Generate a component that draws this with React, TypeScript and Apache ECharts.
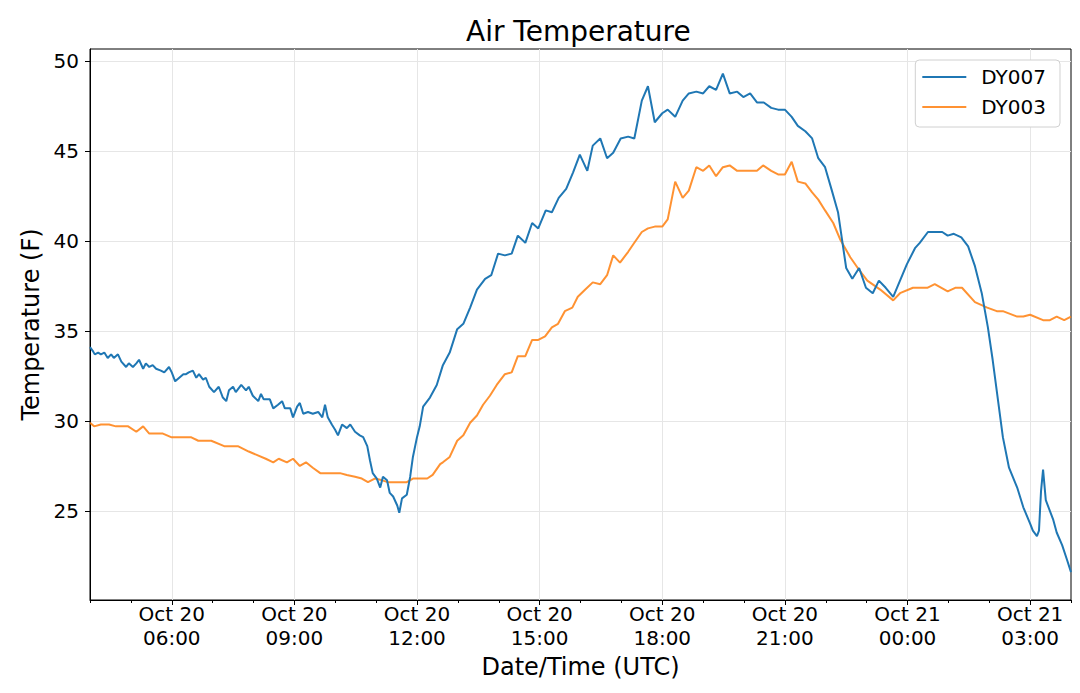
import { useEffect, useRef } from "react";
import * as echarts from "echarts";

// Time origin: Oct 20 04:00 UTC; minutes are offsets from it.
const startHour = 4;
const endHour = 28;
const majorTickHours = [6, 9, 12, 15, 18, 21, 24, 27];
const yTicks = [25, 30, 35, 40, 45, 50];
const seriesNames = ["DY007", "DY003"];

const blueMinutes = [
  0, 4, 7, 12, 16, 21, 26, 31, 35, 41,
  46, 53, 57, 63, 68, 72, 78, 82, 87, 92,
  97, 104, 109, 116, 120, 125, 131, 137, 141, 145,
  151, 156, 160, 166, 170, 175, 182, 189, 195, 200,
  204, 210, 214, 222, 229, 233, 239, 247, 251, 255,
  264, 269, 276, 282, 286, 294, 298, 304, 308,
  313, 320, 327, 335, 341, 345, 349, 355, 360, 364,
  370, 377, 382, 389, 396, 401, 407, 411, 415, 421,
  426, 430, 436, 440, 445, 451, 454, 458, 465, 470,
  474, 480, 484, 489, 499, 509, 518, 528, 539, 548,
  558, 568, 580, 589, 599, 609, 619, 628, 639, 649,
  658, 669, 678, 688, 699, 709, 719, 730, 738, 749,
  759, 768, 779, 790, 799, 810, 819, 829, 840, 848,
  859, 870, 879, 890, 900, 909, 919, 929, 939, 950,
  959, 969, 979, 989, 1000, 1010, 1020, 1030, 1039, 1050,
  1060, 1069, 1079, 1089, 1098, 1110, 1119, 1129, 1139, 1149,
  1158, 1168, 1179, 1189, 1199, 1211, 1218, 1230, 1240, 1251,
  1259, 1268, 1279, 1289, 1299, 1309, 1318, 1325, 1340, 1349,
  1361, 1370, 1380, 1384, 1390, 1393, 1396, 1399, 1403, 1414,
  1419, 1427, 1434, 1440,
];
const blueTemps = [
  34.1, 33.9, 33.7, 33.8, 33.7, 33.8, 33.5, 33.7, 33.5, 33.7,
  33.3, 33.0, 33.2, 33.0, 33.2, 33.4, 32.9, 33.2, 33.0, 33.1,
  32.9, 32.8, 32.7, 33.0, 32.7, 32.2, 32.4, 32.6, 32.6, 32.7,
  32.8, 32.4, 32.6, 32.3, 32.4, 31.9, 31.6, 31.9, 31.3, 31.1,
  31.7, 31.9, 31.6, 32.0, 31.7, 31.9, 31.4, 31.1, 31.5, 31.2,
  31.2, 30.7, 30.9, 31.1, 30.7, 30.7, 30.2, 30.8, 31.0,
  30.4, 30.5, 30.4, 30.5, 30.2, 30.9, 30.2, 29.8, 29.5, 29.2,
  29.8, 29.6, 29.8, 29.4, 29.2, 29.1, 28.6, 27.8, 27.1, 26.8,
  26.3, 26.9, 26.7, 26.0, 25.8, 25.3, 24.9, 25.7, 25.9, 26.9,
  28.0, 29.1, 29.7, 30.8, 31.3, 32.0, 33.1, 33.8, 35.1, 35.4,
  36.3, 37.3, 37.9, 38.1, 39.3, 39.2, 39.3, 40.3, 39.9, 41.0,
  40.7, 41.7, 41.6, 42.4, 42.9, 43.8, 44.8, 43.9, 45.3, 45.7,
  44.6, 44.9, 45.7, 45.8, 45.7, 47.8, 48.6, 46.6, 47.1, 47.3,
  46.9, 47.8, 48.2, 48.3, 48.2, 48.6, 48.4, 49.3, 48.2, 48.3,
  48.0, 48.2, 47.7, 47.7, 47.4, 47.3, 47.3, 46.9, 46.4, 46.1,
  45.7, 44.6, 44.1, 42.8, 41.6, 38.5, 37.9, 38.5, 37.4, 37.1,
  37.8, 37.4, 36.9, 37.8, 38.7, 39.6, 39.9, 40.5, 40.5, 40.5,
  40.3, 40.4, 40.2, 39.7, 38.6, 37.1, 35.2, 33.4, 29.1, 27.4,
  26.3, 25.2, 24.3, 23.9, 23.6, 23.9, 26.1, 27.3, 25.6, 24.5,
  23.8, 23.1, 22.3, 21.6,
];

const orangeMinutes = [
  0, 6, 16, 28, 38, 56, 68, 78, 87, 107,
  119, 148, 159, 178, 197, 217, 233, 258, 269, 277,
  289, 298, 308, 317, 327, 338, 367, 377, 389, 399,
  408, 418, 429, 437, 465, 474, 484, 495, 503, 514,
  518, 528, 539, 548, 558, 568, 577, 587, 597, 609,
  619, 628, 639, 649, 658, 668, 678, 687, 697, 708,
  716, 727, 738, 749, 759, 768, 778, 790, 799, 810,
  819, 829, 840, 848, 859, 870, 879, 890, 900, 909,
  919, 929, 939, 950, 979, 988, 1000, 1010, 1020, 1030,
  1039, 1050, 1060, 1069, 1079, 1091, 1101, 1116, 1127, 1141,
  1160, 1179, 1189, 1208, 1229, 1240, 1259, 1270, 1280, 1299,
  1317, 1331, 1340, 1361, 1370, 1380, 1399, 1409, 1419, 1430,
  1440,
];
const orangeTemps = [
  29.9, 29.7, 29.8, 29.8, 29.7, 29.7, 29.4, 29.7, 29.3, 29.3,
  29.1, 29.1, 28.9, 28.9, 28.6, 28.6, 28.3, 27.9, 27.7, 27.9,
  27.7, 27.9, 27.5, 27.7, 27.4, 27.1, 27.1, 27.0, 26.9, 26.8,
  26.6, 26.8, 26.7, 26.6, 26.6, 26.8, 26.8, 26.8, 27.0, 27.6,
  27.7, 28.0, 28.9, 29.2, 29.9, 30.3, 30.9, 31.4, 32.0, 32.6,
  32.7, 33.6, 33.6, 34.5, 34.5, 34.7, 35.2, 35.4, 36.1, 36.3,
  36.9, 37.3, 37.7, 37.6, 38.1, 39.2, 38.8, 39.4, 39.9, 40.5,
  40.7, 40.8, 40.8, 41.2, 43.3, 42.4, 42.8, 44.1, 43.9, 44.2,
  43.6, 44.1, 44.2, 43.9, 43.9, 44.2, 43.9, 43.7, 43.7, 44.4,
  43.3, 43.2, 42.7, 42.3, 41.7, 41.0, 40.1, 39.1, 38.5, 37.8,
  37.3, 36.7, 37.1, 37.4, 37.4, 37.6, 37.2, 37.4, 37.4, 36.6,
  36.3, 36.1, 36.1, 35.8, 35.8, 35.9, 35.6, 35.6, 35.8, 35.6,
  35.8,
];

const FONT = "DejaVu Sans";

function toPairs(minutes: number[], temps: number[]) {
  return minutes.map((m, i) => [startHour + m / 60, temps[i]]);
}

function formatTime(h: number) {
  const day = h >= 24 ? 21 : 20;
  const hh = Math.round(h) % 24;
  return `Oct ${day}\n${String(hh).padStart(2, "0")}:00`;
}

export default function App() {
  const ref = useRef<HTMLDivElement>(null);
  useEffect(() => {
    const chart = echarts.init(ref.current!, null, { renderer: "svg" });
    chart.setOption({
      animation: false,
      backgroundColor: "#fff",
      textStyle: { fontFamily: FONT },
      title: {
        text: "Air Temperature",
        left: 466,
        top: 17,
        padding: 0,
        textStyle: { fontFamily: FONT, fontSize: 28, fontWeight: "normal", color: "#000" },
      },
      legend: {
        data: seriesNames,
        orient: "vertical",
        right: 20,
        top: 60,
        padding: [7, 14, 10, 6],
        itemWidth: 44,
        itemHeight: 20,
        itemGap: 10,
        itemStyle: { opacity: 0 },
        lineStyle: { width: 2 },
        backgroundColor: "#fff",
        borderColor: "#d0d0d0",
        borderWidth: 1,
        borderRadius: 4,
        textStyle: { fontFamily: FONT, fontSize: 20, color: "#000", padding: [0, 0, 0, 10] },
      },
      grid: {
        left: 90,
        right: 9,
        top: 49,
        bottom: 93,
        show: true,
        borderColor: "#000",
        borderWidth: 1,
        backgroundColor: "#fff",
      },
      xAxis: [
        {
          type: "value",
          min: startHour,
          max: endHour,
          name: "Date/Time (UTC)",
          nameLocation: "middle",
          nameGap: 54,
          nameTextStyle: { fontFamily: FONT, fontSize: 24, color: "#000" },
          axisLine: { show: true, lineStyle: { color: "#000", width: 1 } },
          axisTick: { show: true, length: 5, customValues: majorTickHours, lineStyle: { color: "#000" } },
          axisLabel: {
            customValues: majorTickHours,
            formatter: (v: number) => formatTime(v),
            fontFamily: FONT,
            fontSize: 20,
            lineHeight: 24,
            color: "#000",
            margin: 2,
          },
          splitLine: { show: true, lineStyle: { color: "#e6e6e6", width: 1 } },
        },
        {
          type: "value",
          min: startHour,
          max: endHour,
          interval: 1,
          position: "bottom",
          axisLine: { show: false },
          axisTick: { show: true, length: 3, lineStyle: { color: "#000" } },
          axisLabel: { show: false },
          splitLine: { show: false },
        },
      ],
      yAxis: {
        type: "value",
        min: 20.05,
        max: 50.67,
        name: "Temperature (F)",
        nameLocation: "middle",
        nameRotate: 90,
        nameGap: 43,
        nameTextStyle: { fontFamily: FONT, fontSize: 24, color: "#000" },
        axisLine: { show: true, lineStyle: { color: "#000", width: 1 } },
        axisTick: { show: true, length: 5, customValues: yTicks, lineStyle: { color: "#000" } },
        axisLabel: {
          customValues: yTicks,
          fontFamily: FONT,
          fontSize: 20,
          color: "#000",
          margin: 11,
        },
        splitLine: { show: true, lineStyle: { color: "#e6e6e6", width: 1 } },
      },
      series: [
        {
          name: seriesNames[0],
          type: "line",
          xAxisIndex: 0,
          symbol: "none",
          showSymbol: false,
          color: "#1f77b4",
          lineStyle: { width: 2, color: "#1f77b4" },
          data: toPairs(blueMinutes, blueTemps),
          z: 3,
        },
        {
          name: seriesNames[1],
          type: "line",
          xAxisIndex: 0,
          symbol: "none",
          showSymbol: false,
          color: "#ff7f0e",
          lineStyle: { width: 2, color: "#ff7f0e", opacity: 0.85 },
          data: toPairs(orangeMinutes, orangeTemps),
          z: 2,
        },
      ],
    });
    return () => chart.dispose();
  }, []);
  return (
    <div
      ref={ref}
      style={{ position: "absolute", left: 0, top: 0, width: 1080, height: 693, background: "#fff" }}
    />
  );
}
